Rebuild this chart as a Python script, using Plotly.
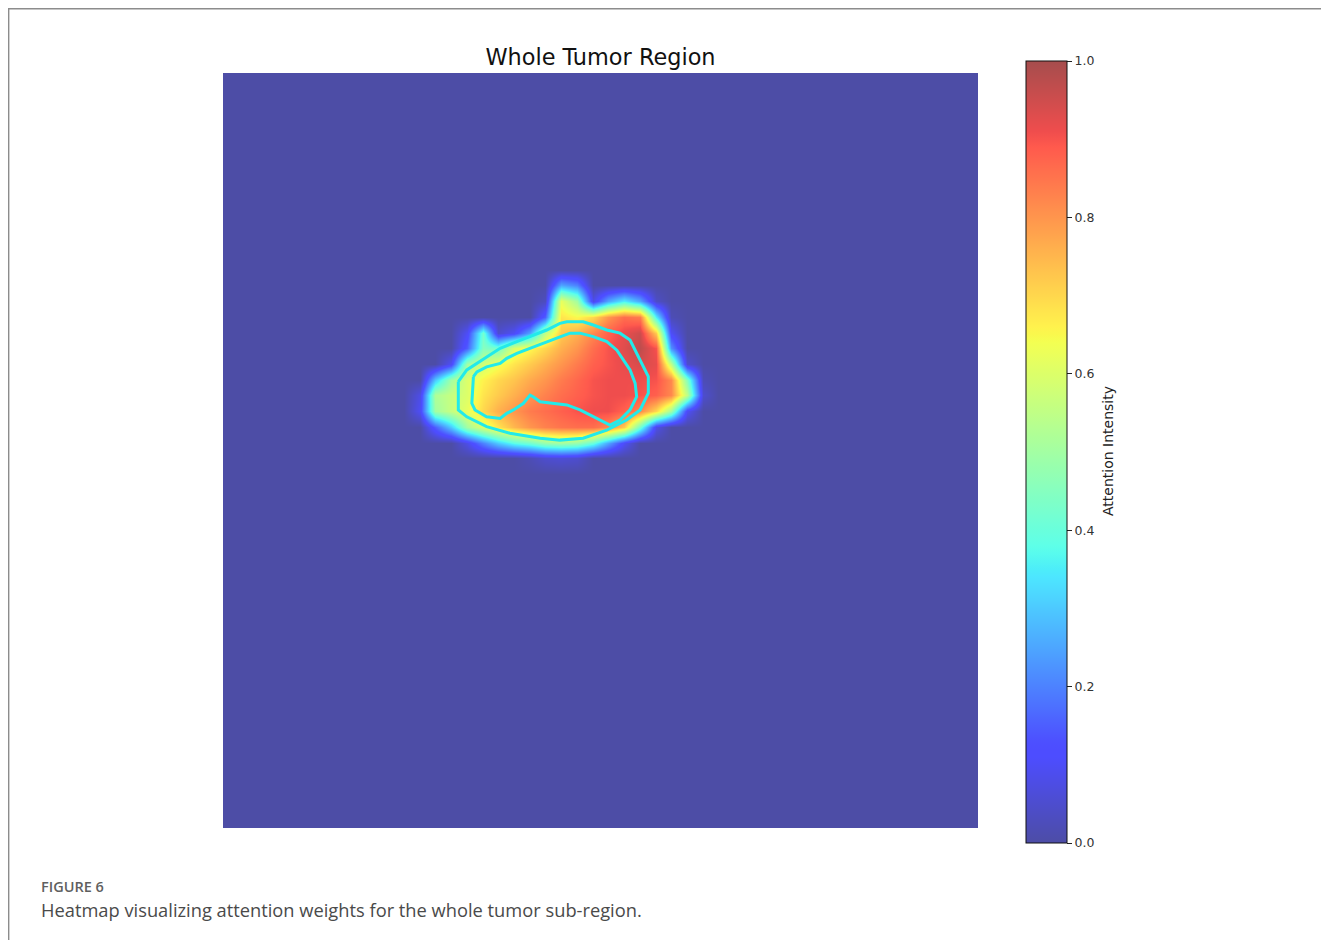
import numpy as np
import plotly.graph_objects as go

# ---------------- data ----------------
IMG_SIZE = 240          # image is IMG_SIZE x IMG_SIZE pixels
GRID_N = 48             # attention map sampled on GRID_N x GRID_N cells
BLOB_ROW0 = 13          # first grid row of the non-zero block
BLOB_COL0 = 12          # first grid column of the non-zero block

# attention values (rows top->bottom, cols left->right)
BLOB_VALUES = [
    [0, 0, 0, 0, 0, 0, 0, 0, 0, 0.25, 0.2, 0, 0, 0, 0, 0, 0, 0, 0, 0],
    [0, 0, 0, 0, 0, 0, 0, 0, 0.03, 0.62, 0.5, 0.08, 0.25, 0.35, 0.25, 0.04, 0, 0, 0, 0],
    [0, 0, 0, 0, 0, 0, 0, 0, 0.15, 0.68, 0.65, 0.7, 0.8, 0.86, 0.84, 0.35, 0.02, 0, 0, 0],
    [0, 0, 0, 0.1, 0.42, 0.05, 0.1, 0.25, 0.55, 0.72, 0.76, 0.82, 0.88, 0.92, 0.95, 0.72, 0.1, 0, 0, 0],
    [0, 0, 0, 0.15, 0.45, 0.42, 0.6, 0.65, 0.7, 0.76, 0.8, 0.86, 0.9, 0.93, 0.97, 0.9, 0.22, 0, 0, 0],
    [0, 0, 0.1, 0.5, 0.58, 0.63, 0.68, 0.72, 0.76, 0.8, 0.84, 0.88, 0.9, 0.92, 0.94, 0.92, 0.55, 0.05, 0, 0],
    [0, 0.3, 0.5, 0.6, 0.66, 0.7, 0.73, 0.77, 0.8, 0.84, 0.87, 0.9, 0.91, 0.91, 0.91, 0.9, 0.82, 0.45, 0.02, 0],
    [0.08, 0.52, 0.56, 0.6, 0.68, 0.72, 0.76, 0.8, 0.83, 0.86, 0.88, 0.9, 0.91, 0.91, 0.9, 0.88, 0.82, 0.55, 0.05, 0],
    [0.1, 0.5, 0.56, 0.62, 0.7, 0.76, 0.8, 0.84, 0.86, 0.88, 0.9, 0.91, 0.91, 0.88, 0.82, 0.7, 0.5, 0.1, 0, 0],
    [0, 0.15, 0.3, 0.5, 0.6, 0.68, 0.75, 0.8, 0.83, 0.85, 0.86, 0.86, 0.82, 0.72, 0.42, 0.08, 0, 0, 0, 0],
    [0, 0, 0, 0.08, 0.2, 0.3, 0.38, 0.42, 0.48, 0.5, 0.48, 0.4, 0.25, 0.1, 0, 0, 0, 0, 0, 0],
    [0, 0, 0, 0, 0, 0, 0, 0.02, 0.05, 0.06, 0.05, 0, 0, 0, 0, 0, 0, 0, 0, 0],
]

# outer tumour mask boundary (image pixel coordinates)
OUTER_X = [74.8, 74.8, 77.5, 83.8, 91.2, 100.8, 107.1, 114.5, 122.0, 128.3, 132.6, 135.2, 135.2,
           133.6, 131.5, 129.4, 126.2, 122.0, 117.7, 114.5, 109.3, 107.1, 102.9, 98.6, 93.4, 88.1,
           83.8, 80.7, 77.5, 74.8]
OUTER_Y = [98.1, 107.1, 109.3, 112.4, 114.5, 116.1, 116.7, 116.1, 113.5, 110.3, 107.1, 101.8, 96.5,
           93.4, 89.1, 84.9, 82.7, 81.7, 80.1, 79.1, 79.1, 79.6, 81.7, 83.3, 85.4, 87.5,
           90.2, 92.3, 94.4, 98.1]

# inner tumour mask boundary (image pixel coordinates)
INNER_X = [79.6, 79.1, 80.1, 83.8, 88.1, 90.2, 92.3, 95.5, 97.6, 98.6, 100.8, 105.0, 109.3, 113.5,
           117.7, 120.9, 123.0, 126.2, 129.4, 131.5, 131.0, 129.4, 127.3, 125.2, 122.0, 117.7,
           113.5, 110.3, 106.1, 101.8, 97.6, 93.4, 90.2, 88.1, 83.8, 80.7, 79.6]
INNER_Y = [96.5, 105.0, 107.1, 109.3, 109.8, 108.2, 107.1, 105.0, 102.4, 102.9, 104.5, 105.0, 105.5,
           107.1, 109.3, 110.8, 111.9, 110.3, 107.1, 102.9, 98.6, 94.4, 91.2, 88.1, 85.4, 83.8,
           82.7, 82.7, 84.3, 85.9, 87.5, 89.1, 90.7, 92.3, 93.4, 95.0, 96.5]

TICK_VALS = [0.0, 0.2, 0.4, 0.6, 0.8, 1.0]
TICK_TEXT = ["0.0", "0.2", "0.4", "0.6", "0.8", "1.0"]

TITLE = "Whole Tumor Region"
CBAR_TITLE = "Attention Intensity"
CAPTION_LABEL = "FIGURE 6"
CAPTION_TEXT = "Heatmap visualizing attention weights for the whole tumor sub-region."

# ---------------- build grid ----------------
Z = np.zeros((GRID_N, GRID_N))
blob = np.array(BLOB_VALUES, dtype=float)
Z[BLOB_ROW0:BLOB_ROW0 + blob.shape[0], BLOB_COL0:BLOB_COL0 + blob.shape[1]] = blob
cell = IMG_SIZE / GRID_N
centers = (np.arange(GRID_N) + 0.5) * cell

# jet colormap drawn with alpha 0.7 on white
def jet_alpha(v, alpha=0.7):
    r = np.interp(v, [0, 0.35, 0.66, 0.89, 1], [0, 0, 1, 1, 0.5])
    g = np.interp(v, [0, 0.125, 0.375, 0.64, 0.91, 1], [0, 0, 1, 1, 0, 0])
    b = np.interp(v, [0, 0.11, 0.34, 0.65, 1], [0.5, 1, 1, 0, 0])
    rgb = [int(round((c * alpha + (1 - alpha)) * 255)) for c in (r, g, b)]
    return "rgb(%d,%d,%d)" % tuple(rgb)

stops = np.linspace(0, 1, 101)
colorscale = [[float(s), jet_alpha(s)] for s in stops]

# ---------------- layout helpers ----------------
# page body adds an 8px offset, so figure pixel p shows at screen p + 8
OFF = 8
W, H = 1329 - OFF, 940 - OFF
L, T = 223 - OFF, 73 - OFF
R, B = W - (978 - OFF), H - (828 - OFF)
PW, PH = W - L - R, H - T - B

def px_x(p):
    """screen x pixel -> paper x"""
    return (p - OFF - L) / PW

def px_y(p):
    """screen y pixel -> paper y"""
    return (H - B - (p - OFF)) / PH

fig = go.Figure()
fig.add_trace(go.Heatmap(
    z=Z, x=centers, y=centers, zmin=0, zmax=1, zsmooth="best",
    colorscale=colorscale, hoverinfo="skip",
    colorbar=dict(
        x=px_x(1026), xanchor="left", xpad=0,
        y=px_y(61), yanchor="top", ypad=0,
        len=782, lenmode="pixels", thickness=41, thicknessmode="pixels",
        outlinecolor="#111", outlinewidth=1,
        tickvals=TICK_VALS, ticktext=TICK_TEXT,
        ticks="outside", ticklen=5, tickcolor="#222", tickwidth=1,
        tickfont=dict(family="DejaVu Sans", size=12.5, color="#333"),
    ),
))

for xs, ys in ((OUTER_X, OUTER_Y), (INNER_X, INNER_Y)):
    fig.add_trace(go.Scatter(
        x=xs, y=ys, mode="lines", line=dict(color="#22EAEA", width=3),
        hoverinfo="skip", showlegend=False,
    ))

fig.update_xaxes(range=[0, IMG_SIZE], visible=False, showgrid=False, zeroline=False)
fig.update_yaxes(range=[IMG_SIZE, 0], visible=False, showgrid=False, zeroline=False)

fig.update_layout(
    width=W, height=H,
    margin=dict(l=L, r=R, t=T, b=B, pad=0),
    paper_bgcolor="white", plot_bgcolor="white",
    showlegend=False,
    title=dict(text=TITLE, x=0.5, xref="paper", xanchor="center",
               y=1 - (57 - OFF) / H, yref="container", yanchor="middle",
               font=dict(family="DejaVu Sans", size=22.4, color="#111")),
    shapes=[
        dict(type="line", xref="paper", yref="paper", x0=px_x(8), x1=px_x(1329),
             y0=px_y(8.6), y1=px_y(8.6), line=dict(color="#8c8c8c", width=1.6)),
        dict(type="line", xref="paper", yref="paper", x0=px_x(8.6), x1=px_x(8.6),
             y0=px_y(8), y1=px_y(940), line=dict(color="#8c8c8c", width=1.6)),
    ],
    annotations=[
        dict(text=CBAR_TITLE, xref="paper", yref="paper", x=px_x(1108), y=px_y(451),
             xanchor="center", yanchor="middle", textangle=-90, showarrow=False,
             font=dict(family="DejaVu Sans", size=14, color="#222")),
        dict(text=CAPTION_LABEL, xref="paper", yref="paper", x=px_x(39), y=px_y(886),
             xanchor="left", yanchor="middle", showarrow=False,
             font=dict(family="Open Sans", size=14.5, color="#5f5f5f", weight=600)),
        dict(text=CAPTION_TEXT, xref="paper", yref="paper", x=px_x(38.5), y=px_y(909),
             xanchor="left", yanchor="middle", showarrow=False,
             font=dict(family="Open Sans", size=18.3, color="#4a4a4a")),
    ],
)

fig.write_html("out.html")
